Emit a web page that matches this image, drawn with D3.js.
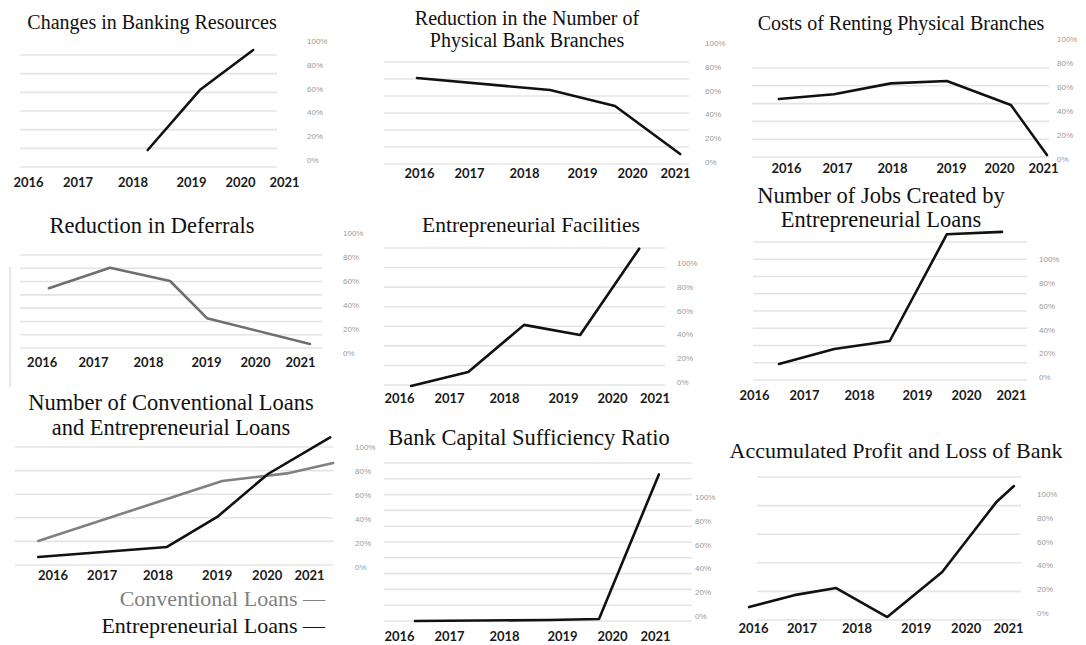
<!DOCTYPE html>
<html>
<head>
<meta charset="utf-8">
<script src="https://cdn.jsdelivr.net/npm/d3@7"></script>
<style>
  html, body { margin: 0; padding: 0; background: #fff; }
  svg { display: block; }
</style>
</head>
<body>
<script>
// ---------------- DATA ----------------
const years = [2016, 2017, 2018, 2019, 2020, 2021];
const percentTicks = [0, 20, 40, 60, 80, 100];

const resourcesYear = [2018.26, 2019.18, 2020.30];
const resourcesValue = [8.4, 58.8, 92.4];

const branchesYear = [2015.96, 2018.45, 2019.66, 2021.12];
const branchesValue = [70.6, 60.5, 47, 6.7];

const rentYear = [2015.86, 2016.94, 2017.98, 2018.93, 2020.27, 2021.09];
const rentValue = [50, 54, 63, 65, 45, 3.3];

const deferralsYear = [2016.14, 2017.31, 2018.38, 2019.02, 2021.22];
const deferralsValue = [54, 71, 60, 29, 7.5];

const facilitiesYear = [2016.24, 2017.35, 2018.34, 2019.35, 2020.64];
const facilitiesValue = [-3.4, 8.4, 48, 39.5, 112];

const jobsYear = [2016.5, 2017.55, 2018.53, 2019.61, 2020.8];
const jobsValue = [11, 23.7, 30.5, 121, 123];

const conventionalYear = [2015.71, 2018.16, 2019.11, 2020.48, 2021.57];
const conventionalValue = [21.7, 56.7, 71.7, 78, 86.7];

const entrepreneurialYear = [2015.71, 2018.16, 2019.01, 2020.03, 2021.5];
const entrepreneurialValue = [8.3, 16.7, 41.7, 77.5, 108];

const capitalYear = [2016.32, 2018.78, 2019.74, 2021.09];
const capitalValue = [-4.2, -3.4, -2.5, 119];

const profitYear = [2015.92, 2016.85, 2017.63, 2018.52, 2019.53, 2020.72, 2021.14];
const profitValue = [5, 15, 21, -3.4, 34.5, 93, 106.7];

const legendLabels = ["Conventional Loans \u2014", "Entrepreneurial Loans \u2014"];

// ---------------- LAYOUT ----------------
const W = 1086, H = 645;
const svg = d3.select("body").append("svg").attr("width", W).attr("height", H);
svg.append("rect").attr("width", W).attr("height", H).attr("fill", "#fff");

const zip = (xs, vs) => xs.map((x, i) => ({ year: x, value: vs[i] }));

const BLACK = "#111", GRAY = "#808080";

const panels = [
  { title: ["Changes in Banking Resources"], tx: 152, ty: [29], ts: 20,
    gx: [20, 277], gTop: 55, gBot: 167, gN: 7, lx: 307, y0: 160, y100: 41,
    xPos: [28, 77.5, 132.5, 191, 240, 284], xLabY: 187,
    series: [{ d: zip(resourcesYear, resourcesValue), c: BLACK }] },
  { title: ["Reduction in the Number of", "Physical Bank Branches"], tx: 527, ty: [25, 47], ts: 20,
    gx: [384, 689], gTop: 62, gBot: 164, gN: 7, lx: 705, y0: 162, y100: 43,
    xPos: [419, 469, 524, 582, 632, 675], xLabY: 178,
    series: [{ d: zip(branchesYear, branchesValue), c: BLACK }] },
  { title: ["Costs of Renting Physical Branches"], tx: 901, ty: [30], ts: 20,
    gx: [752, 1049], gTop: 68, gBot: 157, gN: 6, lx: 1057, y0: 159, y100: 39,
    xPos: [786, 837, 892, 951, 999, 1043], xLabY: 173,
    series: [{ d: zip(rentYear, rentValue), c: BLACK }] },
  { title: ["Reduction in Deferrals"], tx: 152, ty: [233], ts: 22.5,
    gx: [20, 322], gTop: 255, gBot: 348, gN: 8, lx: 343, y0: 353, y100: 233,
    xPos: [41.7, 93, 148, 206, 255, 300], xLabY: 367, vline: [10, 267, 387],
    series: [{ d: zip(deferralsYear, deferralsValue), c: "#6e6e6e" }] },
  { title: ["Entrepreneurial Facilities"], tx: 531, ty: [232], ts: 21.5,
    gx: [384, 665], gTop: 248, gBot: 385, gN: 8, lx: 677, y0: 382, y100: 263,
    xPos: [399, 449, 504, 563, 612, 654.5], xLabY: 403,
    series: [{ d: zip(facilitiesYear, facilitiesValue), c: BLACK }] },
  { title: ["Number of Jobs Created by", "Entrepreneurial Loans"], tx: 881, ty: [203, 227], ts: 22.5,
    gx: [753, 1027], gTop: 242, gBot: 380, gN: 9, lx: 1039, y0: 377, y100: 259,
    xPos: [754, 804, 859, 917, 966, 1011], xLabY: 400,
    series: [{ d: zip(jobsYear, jobsValue), c: BLACK }] },
  { title: ["Number of Conventional Loans", "and Entrepreneurial Loans"], tx: 171, ty: [410, 435], ts: 22.5,
    gx: [15, 333], gTop: 447, gBot: 565, gN: 6, lx: 355, y0: 567, y100: 447,
    xPos: [52.5, 101.7, 157.5, 216.7, 266.7, 309], xLabY: 580, legend: true,
    series: [{ d: zip(conventionalYear, conventionalValue), c: GRAY },
             { d: zip(entrepreneurialYear, entrepreneurialValue), c: BLACK }] },
  { title: ["Bank Capital Sufficiency Ratio"], tx: 529, ty: [445], ts: 22.5,
    gx: [384, 692], gTop: 463, gBot: 621, gN: 11, lx: 695, y0: 616, y100: 497,
    xPos: [399, 449, 504, 562, 612, 655], xLabY: 641,
    series: [{ d: zip(capitalYear, capitalValue), c: BLACK }] },
  { title: ["Accumulated Profit and Loss of Bank"], tx: 896, ty: [458], ts: 22,
    gx: [757, 1021], gTop: 477, gBot: 620, gN: 6, lx: 1037, y0: 613, y100: 494,
    xPos: [753, 801.5, 856.5, 915.7, 965.7, 1008], xLabY: 633,
    series: [{ d: zip(profitYear, profitValue), c: BLACK }] }
];

panels.forEach(p => {
  const g = svg.append("g");
  const x = d3.scaleLinear().domain(years).range(p.xPos);
  const y = d3.scaleLinear().domain([0, 100]).range([p.y0, p.y100]);
  const grid = d3.scaleLinear().domain([0, p.gN - 1]).range([p.gBot, p.gTop]);

  // gridlines
  g.selectAll("line.grid").data(d3.range(p.gN)).join("line")
    .attr("x1", p.gx[0]).attr("x2", p.gx[1])
    .attr("y1", d => grid(d)).attr("y2", d => grid(d))
    .attr("stroke", "#e4e4e4").attr("stroke-width", 1.6);

  if (p.vline) {
    g.append("line").attr("x1", p.vline[0]).attr("x2", p.vline[0])
      .attr("y1", p.vline[1]).attr("y2", p.vline[2])
      .attr("stroke", "#e0e0e0").attr("stroke-width", 1.5);
  }

  // title
  p.title.forEach((t, i) => {
    g.append("text").attr("x", p.tx).attr("y", p.ty[i])
      .attr("text-anchor", "middle")
      .attr("font-family", "'Liberation Serif', 'Times New Roman', serif")
      .attr("font-size", p.ts).attr("fill", "#111").text(t);
  });

  // x axis labels
  const xa = g.append("g").attr("transform", `translate(0,${p.xLabY})`)
    .call(d3.axisBottom(x).tickValues(years).tickFormat(d3.format("d")).tickSize(0).tickPadding(0));
  xa.select(".domain").remove();
  xa.selectAll("text").attr("y", 0).attr("dy", 0)
    .attr("font-family", "Lato, 'Liberation Sans', sans-serif")
    .attr("font-weight", "bold").attr("font-size", 13).attr("fill", "#1a1a1a");

  // y axis labels (right)
  const ya = g.append("g").attr("transform", `translate(${p.lx},0)`)
    .call(d3.axisRight(y).tickValues(percentTicks).tickFormat(d => d + "%").tickSize(0).tickPadding(0));
  ya.select(".domain").remove();
  ya.selectAll("text").attr("x", 0).attr("dy", "0.32em")
    .attr("font-family", "'Liberation Sans', Arial, sans-serif")
    .attr("font-size", 8).attr("fill", "#9a9a9a");

  // lines
  const line = d3.line().x(d => x(d.year)).y(d => y(d.value));
  p.series.forEach(s => {
    g.append("path").datum(s.d).attr("d", line)
      .attr("fill", "none").attr("stroke", s.c).attr("stroke-width", 2.6)
      .attr("stroke-linejoin", "round").attr("stroke-linecap", "round");
  });

  if (p.legend) {
    const lg = [ { t: legendLabels[0], c: GRAY, y: 606 }, { t: legendLabels[1], c: BLACK, y: 633 } ];
    lg.forEach(l => {
      g.append("text").attr("x", 325).attr("y", l.y).attr("text-anchor", "end")
        .attr("font-family", "'Liberation Serif', 'Times New Roman', serif")
        .attr("font-size", 22).attr("fill", l.c).text(l.t);
    });
  }
});
</script>
</body>
</html>
